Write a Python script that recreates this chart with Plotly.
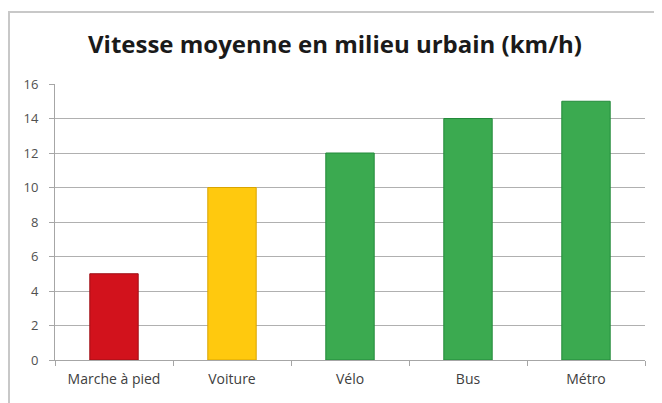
import plotly.graph_objects as go

categories = ["Marche à pied", "Voiture", "Vélo", "Bus", "Métro"]
speeds = [5, 10, 12, 14, 15]
bar_colors = ["#D2121C", "#FFC90E", "#3BAA50", "#3BAA50", "#3BAA50"]
edge_colors = ["#9E0E14", "#D9A400", "#238A3A", "#238A3A", "#238A3A"]
y_ticks = [0, 2, 4, 6, 8, 10, 12, 14, 16]

fig = go.Figure(go.Bar(
    x=categories, y=speeds,
    marker=dict(color=bar_colors, line=dict(color=edge_colors, width=1)),
))

# page body has an 8px margin; figure coords are screen coords minus 8
W, H = 654, 395
L, R, T, B = 47, 17, 76, 43
pw, ph = W - L - R, H - T - B

def px_x(x):
    return (x - L) / pw

def px_y(y):
    return (H - B - y) / ph

fig.update_layout(
    width=W, height=H,
    margin=dict(l=L, r=R, t=T, b=B),
    paper_bgcolor="white", plot_bgcolor="white",
    bargap=0.59,
    showlegend=False,
    title=dict(text="<b>Vitesse moyenne en milieu urbain (km/h)</b>",
               x=(327 - L) / pw, xref="paper", xanchor="center",
               y=1 - 37 / H, yanchor="middle",
               font=dict(family="Open Sans", size=24, color="#1a1a1a")),
    font=dict(family="Open Sans", size=12, color="#595959"),
    xaxis=dict(showline=True, linecolor="#A6A6A6", linewidth=1,
               ticks="outside", tickson="boundaries", ticklen=5, tickcolor="#A6A6A6",
               showgrid=False, ticklabelstandoff=6,
               tickfont=dict(size=14, color="#404040")),
    yaxis=dict(range=[0, 16], tickvals=y_ticks, showline=True, linecolor="#A6A6A6",
               ticks="outside", ticklen=5, tickcolor="#A6A6A6",
               gridcolor="#B0B0B0", gridwidth=1, zeroline=False,
               ticklabelstandoff=8,
               tickfont=dict(size=13, color="#505050")),
    shapes=[dict(type="rect", xref="paper", yref="paper",
                 x0=px_x(1), x1=px_x(647), y0=px_y(400), y1=px_y(4),
                 line=dict(color="#C8C8C8", width=2), layer="below")],
)

fig.write_html("out.html")
